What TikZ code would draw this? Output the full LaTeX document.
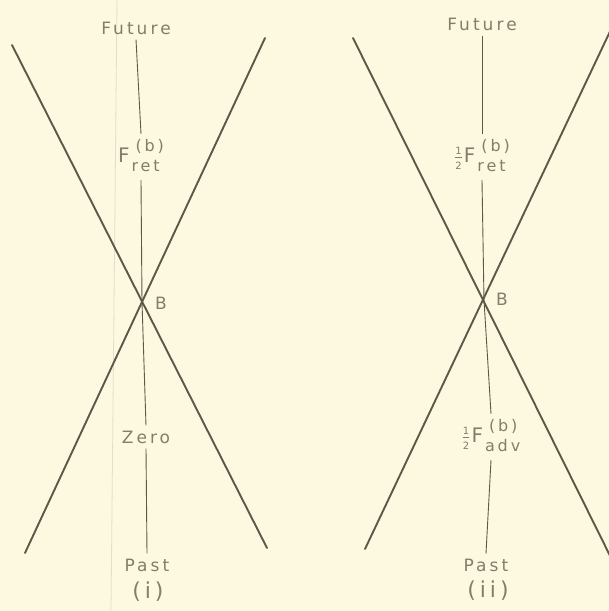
\documentclass[tikz,border=0pt]{standalone}
\usepackage{fontspec}
\setmainfont{DejaVu Sans}[LetterSpace=18]
\definecolor{bg}{RGB}{252,249,224}
\definecolor{ink}{RGB}{92,89,74}
\definecolor{txt}{RGB}{130,126,108}
\definecolor{artifact}{RGB}{228,222,196}
\newcommand\Flab[2]{F\kern2pt\begin{tabular}[c]{@{}l@{}}\fontsize{16}{16}\selectfont\kern4pt #1\\[0pt]\fontsize{16}{16}\selectfont #2\end{tabular}}
\newcommand\halfsym{$\frac{\hbox{\fontsize{10}{10}\selectfont 1}}{\hbox{\fontsize{10}{10}\selectfont 2}}$}
\tikzset{
  crossline/.style={draw=ink, line width=1.9pt, line cap=round},
  axisline/.style={draw=ink, line width=0.9pt},
  lbl/.style={text=txt, inner sep=5pt, font=\fontsize{17}{17}\selectfont},
  biglbl/.style={lbl, inner sep=3pt, font=\fontsize{20}{20}\selectfont},
  caplbl/.style={lbl, font=\fontsize{22}{22}\selectfont},
}
\begin{document}
\begin{tikzpicture}[x=1pt,y=-1pt]
\fill[bg] (0,0) rectangle (609,611);
\useasboundingbox (0,0) rectangle (609,611);
\begin{scope}
\clip (0,0) rectangle (609,611);
% faint scan line
\coordinate (s1) at (117,0);
\coordinate (s2) at (111,611);
\draw[artifact, line width=0.8pt] (s1) -- (s2);
% ---------- panel (i)
\coordinate (a1) at (12,45);
\coordinate (a2) at (267,548);
\coordinate (b1) at (265,38);
\coordinate (b2) at (25,553);
\draw[crossline] (a1) -- (a2);
\draw[crossline] (b1) -- (b2);
\coordinate (B1) at (142,302);
\node[lbl] (fut1) at (136,28) {Future};
\node[biglbl] (fret1) at (141,157) {\Flab{(b)}{ret}};
\node[lbl] (zero1) at (146,437) {Zero};
\node[lbl] (past1) at (147,565) {Past};
\node[caplbl] (cap1) at (148,592) {(i)};
\node[lbl] (Bl1) at (161,303) {B};
\draw[axisline] (fut1.south) -- (fret1.north);
\draw[axisline] (fret1.south) -- (B1) -- (zero1.north);
\draw[axisline] (zero1.south) -- (past1.north);
% ---------- panel (ii)
\coordinate (c1) at (353,38);
\coordinate (c2) at (631,598);
\coordinate (d1) at (623,4);
\coordinate (d2) at (365,549);
\draw[crossline] (c1) -- (c2);
\draw[crossline] (d1) -- (d2);
\coordinate (B2) at (484,300);
\node[lbl] (fut2) at (482,24) {Future};
\node[biglbl] (fret2) at (482,157) {\halfsym\kern1pt\Flab{(b)}{ret}};
\node[biglbl] (fadv2) at (491,437) {\halfsym\kern1pt\Flab{(b)}{adv}};
\node[lbl] (past2) at (486,565) {Past};
\node[caplbl] (cap2) at (488,591) {(ii)};
\node[lbl] (Bl2) at (502,299) {B};
\draw[axisline] (fut2.south) -- (fret2.north);
\draw[axisline] (fret2.south) -- (B2) -- (fadv2.north);
\draw[axisline] (fadv2.south) -- (past2.north);
\end{scope}
\end{tikzpicture}
\end{document}
